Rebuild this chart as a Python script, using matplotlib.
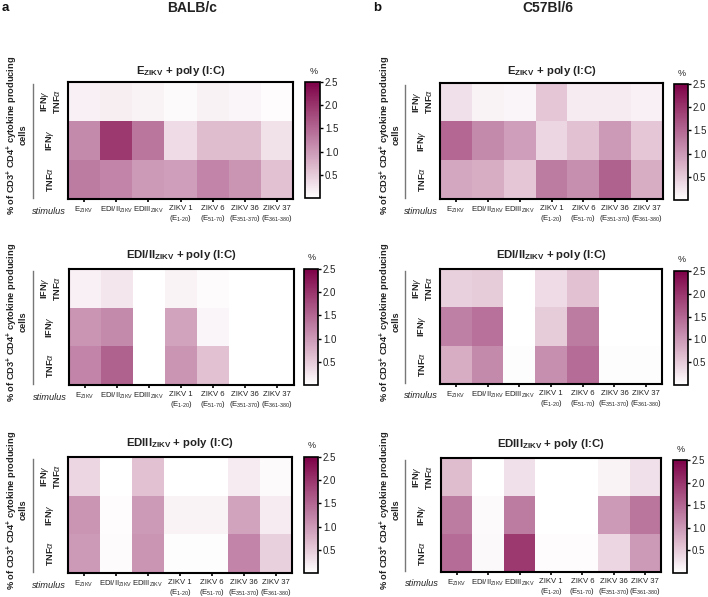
import numpy as np
import matplotlib
matplotlib.use("Agg")
import matplotlib.pyplot as plt
from matplotlib.colors import LinearSegmentedColormap

plt.rcParams['font.family'] = ['Liberation Sans', 'DejaVu Sans']
plt.rcParams['mathtext.fontset'] = 'custom'
plt.rcParams['mathtext.rm'] = 'Liberation Sans'
plt.rcParams['mathtext.it'] = 'Liberation Sans:italic'
plt.rcParams['mathtext.bf'] = 'Liberation Sans:bold'

W, H = 708, 597

stimuli = [r"E$_{\mathrm{ZIKV}}$", r"EDI/II$_{\mathrm{ZIKV}}$", r"EDIII$_{\mathrm{ZIKV}}$",
           "ZIKV 1\n(E$_{\\text{1-20}}$)", "ZIKV 6\n(E$_{\\text{51-70}}$)",
           "ZIKV 36\n(E$_{\\text{351-370}}$)", "ZIKV 37\n(E$_{\\text{361-380}}$)"]

title_e = r"E$_{\mathbf{ZIKV}}$ + poly (I:C)"
title_edi = r"EDI/II$_{\mathbf{ZIKV}}$ + poly (I:C)"
title_ediii = r"EDIII$_{\mathbf{ZIKV}}$ + poly (I:C)"

balb_e = [[.15, .17, .12, .05, .13, .10, .03],
          [1.15, 1.95, 1.35, .35, .65, .65, .28],
          [1.30, 1.20, 1.00, .95, 1.20, 1.05, .60]]
balb_edi = [[.15, .25, 0, .12, .04, 0, 0],
            [1.05, 1.15, 0, .90, .10, 0, 0],
            [1.20, 1.55, 0, 1.05, .60, 0, 0]]
balb_ediii = [[.40, 0, .60, 0, 0, .20, .05],
              [1.05, .03, 1.00, .12, .12, .90, .20],
              [1.00, .04, 1.05, .02, .02, 1.20, .45]]
c57_e = [[.30, .12, .10, .55, .20, .20, .15],
         [1.50, 1.15, .95, .40, .60, 1.00, .55],
         [.85, .80, .55, 1.30, 1.10, 1.55, .80]]
c57_edi = [[.45, .50, 0, .35, .60, 0, 0],
           [1.25, 1.40, 0, .50, 1.30, 0, 0],
           [.80, 1.15, .02, 1.10, 1.45, .02, .02]]
c57_ediii = [[.65, 0, .30, 0, 0, .12, .30],
             [1.30, .05, 1.30, 0, 0, 1.00, 1.35],
             [1.45, .06, 1.95, .03, .03, .40, 1.00]]

cmap = LinearSegmentedColormap.from_list(
    "wp", ["#ffffff", "#e0bed0", "#bf80a5", "#a04276", "#7d0047"])

# layout in pixels: heat (x0,x1,y0,y1), colorbar (x0,x1,y0,y1), side, ylabel centre, title offset
panels = [
    (title_e, balb_e, (68, 293, 82, 199), (305, 320, 82, 198), 'a', 135, 11),
    (title_edi, balb_edi, (68.5, 293.5, 269, 385), (304, 318, 269, 385), 'a', 322, 14),
    (title_ediii, balb_ediii, (68, 292, 457, 573), (304, 318, 457, 573), 'a', 510, 14),
    (title_e, c57_e, (440, 663, 82.5, 199), (674, 688, 84, 200), 'b', 135, 11),
    (title_edi, c57_edi, (440, 662, 269, 384), (674, 688, 271, 385), 'b', 322, 14),
    (title_ediii, c57_ediii, (441, 661, 458, 572), (673, 687, 460, 573), 'b', 510, 14),
]
side = {'a': dict(yl=12, cells=23, line=33, rows=50),
        'b': dict(yl=385, cells=396, line=405, rows=422)}

fig = plt.figure(figsize=(W / 100, H / 100), dpi=100)


def fx(x):
    return x / W


def fy(y):
    return 1 - y / H


def add_ax(b):
    x0, x1, y0, y1 = b
    return fig.add_axes([fx(x0), fy(y1), (x1 - x0) / W, (y1 - y0) / H])


INK = '#222222'
for title, vals, hb, cb, s, yc, toff in panels:
    ax = add_ax(hb)
    m = ax.pcolormesh(np.arange(8), np.arange(4), np.array(vals), cmap=cmap, vmin=0, vmax=2.5)
    ax.invert_yaxis()
    ax.set_yticks([])
    ax.set_xticks(np.arange(7) + .5)
    ax.set_xticklabels(stimuli, fontsize=5.6, color=INK, linespacing=1.1)
    ax.tick_params(axis='x', length=2.5, width=1.2, pad=2)
    for sp in ax.spines.values():
        sp.set_linewidth(1.5)
    cx = (hb[0] + hb[1]) / 2
    fig.text(fx(cx), fy(hb[2] - toff), title, ha='center', va='center',
             fontsize=8.2, fontweight='bold', color=INK)

    cax = add_ax(cb)
    c = fig.colorbar(m, cax=cax)
    c.set_ticks([.5, 1, 1.5, 2, 2.5])
    c.set_ticklabels(['0.5', '1.0', '1.5', '2.0', '2.5'])
    c.ax.tick_params(length=2, width=1, pad=1.5, labelsize=7, labelcolor=INK)
    c.outline.set_linewidth(1.2)
    fig.text(fx((cb[0] + cb[1]) / 2 + 1), fy(cb[2] - 11), '%', ha='center', va='center',
             fontsize=6.5, color=INK)

    p = side[s]
    fig.text(fx(p['yl']), fy(yc), r"% of CD3$^{\mathbf{+}}$ CD4$^{\mathbf{+}}$ cytokine producing",
             rotation=90, ha='center', va='center', fontsize=6.7, fontweight='bold', color=INK)
    fig.text(fx(p['cells']), fy(yc), "cells", rotation=90, ha='center', va='center',
             fontsize=6.7, fontweight='bold', color=INK)
    ytop, ybot = hb[2] + 2, hb[3] - 1
    fig.add_artist(plt.Line2D([fx(p['line'])] * 2, [fy(ytop), fy(ybot)], color='#777777', lw=1))
    rowh = (hb[3] - hb[2]) / 3
    kw = dict(rotation=90, ha='center', va='center', fontsize=6.6, fontweight='bold', color=INK)
    fig.text(fx(p['rows'] - 5), fy(hb[2] + rowh * .5), r"IFN$\gamma$", **kw)
    fig.text(fx(p['rows'] + 7), fy(hb[2] + rowh * .5), r"TNF$\alpha$", **kw)
    fig.text(fx(p['rows']), fy(hb[2] + rowh * 1.5), r"IFN$\gamma$", **kw)
    fig.text(fx(p['rows']), fy(hb[2] + rowh * 2.5), r"TNF$\alpha$", **kw)
    fig.text(fx(hb[0] - 2), fy(hb[3] + 12), "stimulus", ha='right', va='center',
             fontsize=6.7, style='italic', color=INK)

fig.text(fx(192), fy(8), "BALB/c", ha='center', va='center', fontsize=10, fontweight='bold', color=INK)
fig.text(fx(548), fy(8), "C57Bl/6", ha='center', va='center', fontsize=10, fontweight='bold', color=INK)
fig.text(fx(5), fy(8), "a", ha='center', va='center', fontsize=9.5, fontweight='bold', color='#111111')
fig.text(fx(377), fy(8), "b", ha='center', va='center', fontsize=9.5, fontweight='bold', color='#111111')

fig.savefig("out.png", dpi=100)
